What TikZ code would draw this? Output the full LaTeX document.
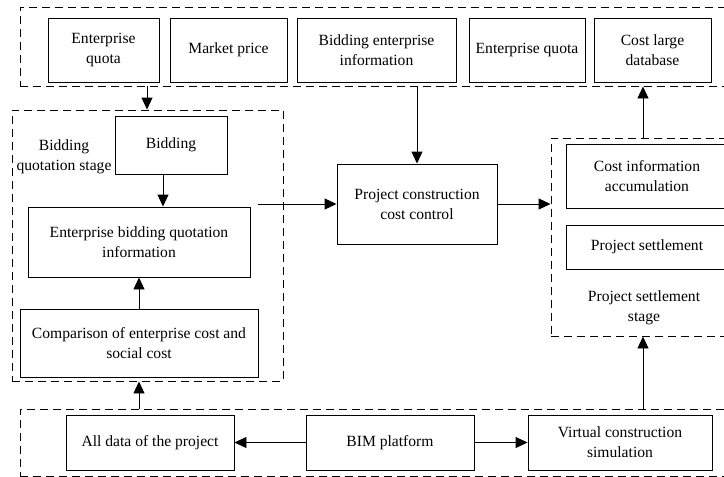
\documentclass[tikz,border=0pt]{standalone}
\usepackage{fontspec}
\setmainfont{Liberation Serif}
\usetikzlibrary{arrows.meta,positioning,calc}

\begin{document}
\begin{tikzpicture}[
      x=1pt, y=-1pt,
      every node/.style={font=\fontsize{15.6}{20}\selectfont},
      box/.style={rectangle, draw, line width=0.9pt, align=center, inner sep=2pt},
      group/.style={rectangle, draw, line width=0.9pt, dash pattern=on 8pt off 5pt},
      arrow/.style={-{Triangle[length=12pt, width=11pt]}, line width=0.9pt},
    ]
    \useasboundingbox (0,0) rectangle (724,477);
    \clip (0,0) rectangle (724,477);

    % dashed stage frames
    \node[group, minimum width=710pt, minimum height=79pt]  (topgrp)   at (375,46.5)  {};
    \node[group, minimum width=271pt, minimum height=271pt] (leftgrp)  at (147.5,245.5) {};
    \node[group, minimum width=184pt, minimum height=198pt] (rightgrp) at (643,237)   {};
    \node[group, minimum width=715pt, minimum height=67pt]  (botgrp)   at (377.5,442.5) {};

    % top row
    \node[box, minimum width=111pt, minimum height=64pt] (equota)  at (103.5,50) {Enterprise\\quota};
    \node[box, minimum width=117pt, minimum height=64pt] (market)  at (228.5,50) {Market price};
    \node[box, minimum width=159pt, minimum height=64pt] (bidinfo) at (376.5,50) {Bidding enterprise\\information};
    \node[box, minimum width=116pt, minimum height=64pt] (equota2) at (527,50)   {Enterprise quota};
    \node[box, minimum width=117pt, minimum height=64pt] (costdb)  at (652.5,50) {Cost large\\database};

    % bidding quotation stage
    \node[box, minimum width=112pt, minimum height=58pt] (bidding) at (171,145) {Bidding};
    \node[box, minimum width=222pt, minimum height=70pt] (ebqi)    at (139,242) {Enterprise bidding quotation\\information};
    \node[box, minimum width=238pt, minimum height=68pt] (compare) at (139,343) {Comparison of enterprise cost and\\social cost};
    \node[align=center] (bidlabel) at (64,157) {Bidding\\quotation stage};

    % centre
    \node[box, minimum width=160pt, minimum height=80pt] (pccc) at (417,204) {Project construction\\cost control};

    % project settlement stage
    \node[box, minimum width=162pt, minimum height=64pt] (costinfo) at (647,176) {Cost information\\accumulation};
    \node[box, minimum width=162pt, minimum height=44pt] (settle)   at (647,247) {Project settlement};
    \node[align=center] (setlabel) at (644,308) {Project settlement\\stage};

    % bottom row
    \node[box, minimum width=168pt, minimum height=55pt] (alldata) at (150,442.5) {All data of the project};
    \node[box, minimum width=168pt, minimum height=55pt] (bim)     at (390,442.5) {BIM platform};
    \node[box, minimum width=184pt, minimum height=55pt] (virtual) at (620,442.5) {Virtual construction\\simulation};

    \coordinate (quotadown) at (147,0);
    \coordinate (lout) at (258,204);

    \draw[arrow] (quotadown |- topgrp.south) -- (quotadown |- leftgrp.north);
    \draw[arrow] ([xshift=-8pt]bidding.south) -- ([xshift=-8pt]bidding.south |- ebqi.north);
    \draw[arrow] (compare) -- (ebqi);
    \draw[arrow] (compare.south |- botgrp.north) -- (compare.south |- leftgrp.south);
    \draw[arrow] (pccc.north |- topgrp.south) -- (pccc.north);
    \draw[arrow] (lout) -- (pccc.west);
    \draw[arrow] (pccc.east) -- (pccc.east -| rightgrp.west);
    \draw[arrow] (rightgrp.north) -- (rightgrp.north |- topgrp.south);
    \draw[arrow] (rightgrp.south |- botgrp.north) -- (rightgrp.south);
    \draw[arrow] (bim) -- (alldata);
    \draw[arrow] (bim) -- (virtual);
  \end{tikzpicture}
\end{document}
